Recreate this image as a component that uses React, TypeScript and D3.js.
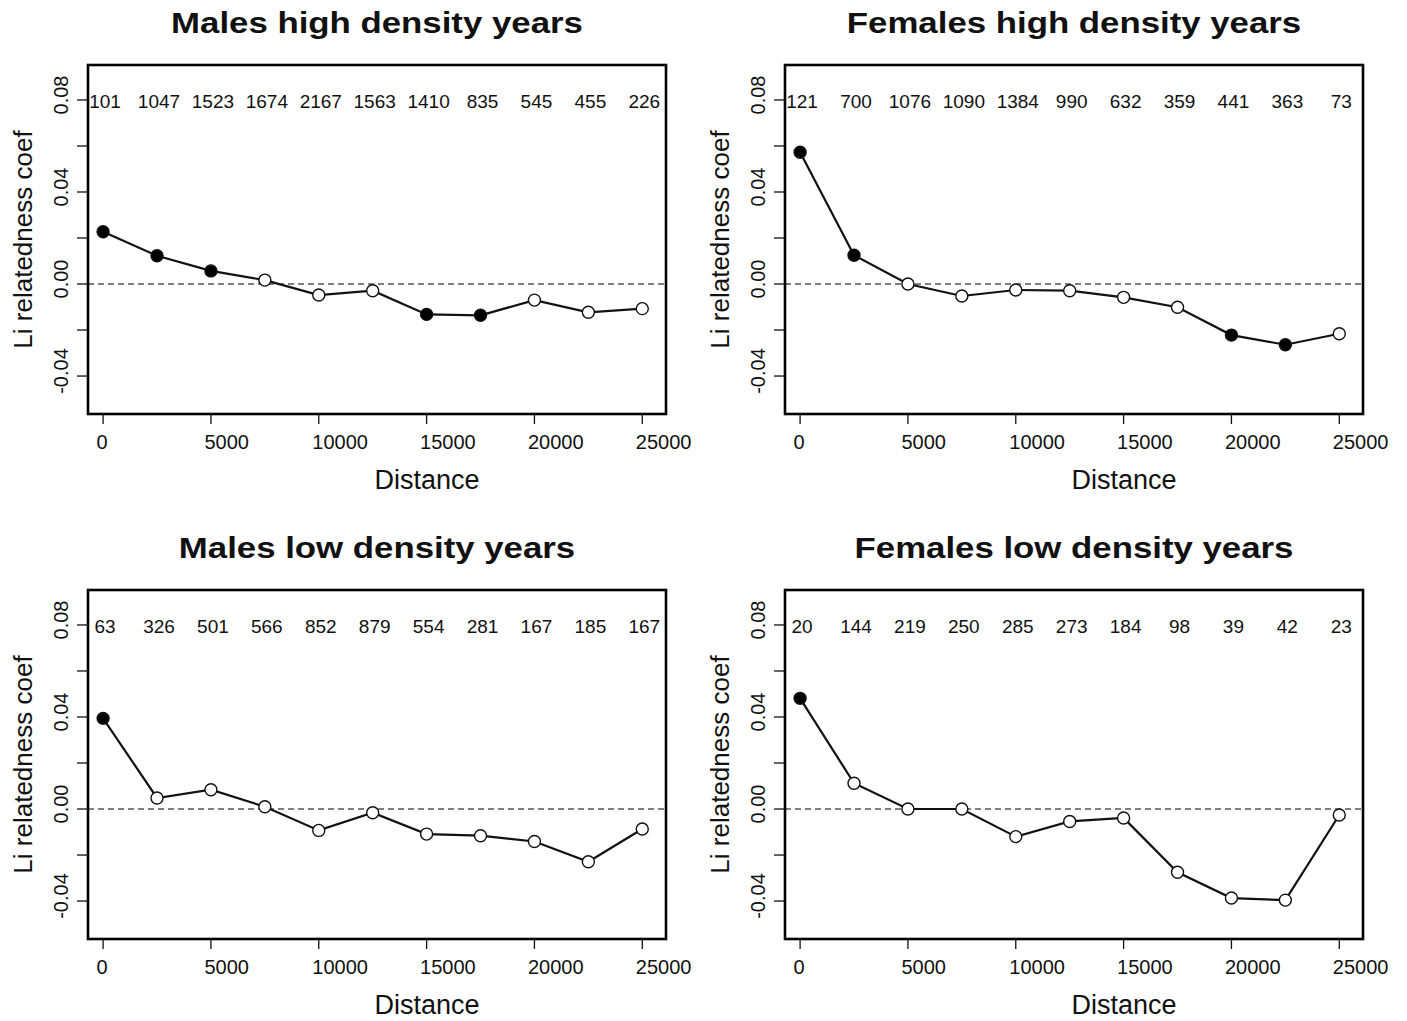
import React from 'react';
import * as d3 from 'd3';

const distances = [0, 2500, 5000, 7500, 10000, 12500, 15000, 17500, 20000, 22500, 25000];
const xTicks = [0, 5000, 10000, 15000, 20000, 25000];
const yTicks = [-0.04, -0.02, 0, 0.02, 0.04, 0.06, 0.08];
const yLabelTicks = [-0.04, 0, 0.04, 0.08];

const panelTitles = [
  'Males high density years',
  'Females high density years',
  'Males low density years',
  'Females low density years',
];

const malesHighValues = [0.0227, 0.0123, 0.0057, 0.0017, -0.0048, -0.0029, -0.0132, -0.0136, -0.0070, -0.0123, -0.0107];
const malesHighCounts = [101, 1047, 1523, 1674, 2167, 1563, 1410, 835, 545, 455, 226];
const malesHighSignif = [1, 1, 1, 0, 0, 0, 1, 1, 0, 0, 0];

const femalesHighValues = [0.0573, 0.0125, 0.0, -0.0052, -0.0026, -0.0029, -0.0058, -0.0101, -0.0222, -0.0264, -0.0216];
const femalesHighCounts = [121, 700, 1076, 1090, 1384, 990, 632, 359, 441, 363, 73];
const femalesHighSignif = [1, 1, 0, 0, 0, 0, 0, 0, 1, 1, 0];

const malesLowValues = [0.0394, 0.0048, 0.0084, 0.0010, -0.0093, -0.0016, -0.0109, -0.0116, -0.0141, -0.0229, -0.0087];
const malesLowCounts = [63, 326, 501, 566, 852, 879, 554, 281, 167, 185, 167];
const malesLowSignif = [1, 0, 0, 0, 0, 0, 0, 0, 0, 0, 0];

const femalesLowValues = [0.0481, 0.0112, 0.0, 0.0, -0.0120, -0.0054, -0.0039, -0.0275, -0.0387, -0.0396, -0.0026];
const femalesLowCounts = [20, 144, 219, 250, 285, 273, 184, 98, 39, 42, 23];
const femalesLowSignif = [1, 0, 0, 0, 0, 0, 0, 0, 0, 0, 0];

const panelValues = [malesHighValues, femalesHighValues, malesLowValues, femalesLowValues];
const panelCounts = [malesHighCounts, femalesHighCounts, malesLowCounts, femalesLowCounts];
const panelSignif = [malesHighSignif, femalesHighSignif, malesLowSignif, femalesLowSignif];

const FONT = '"Liberation Sans", Arial, Helvetica, sans-serif';

const BOX_L = 88;
const BOX_T = 65;
const BOX_W = 578;
const BOX_H = 349;

function Panel({ idx, dx, dy }: { idx: number; dx: number; dy: number }) {
  const x = d3.scaleLinear().domain([-700, 26100]).range([BOX_L, BOX_L + BOX_W]);
  const y = d3.scaleLinear().domain([-0.0565, 0.0952]).range([BOX_T + BOX_H, BOX_T]);
  const values = panelValues[idx];
  const counts = panelCounts[idx];
  const signif = panelSignif[idx];
  const pts = distances.map((d, i) => ({ d, v: values[i], c: counts[i], s: signif[i] }));
  const line = d3
    .line<{ d: number; v: number }>()
    .x((p) => x(p.d))
    .y((p) => y(p.v));
  const fmt = (t: number) => d3.format('.2f')(t).replace('\u2212', '-');
  const cx = BOX_L + BOX_W / 2;
  const cy = BOX_T + BOX_H / 2;
  return (
    <g transform={`translate(${dx},${dy})`} fontFamily={FONT}>
      <text
        transform={`translate(${cx},33) scale(1.2,1)`}
        textAnchor="middle"
        fontSize={29}
        fontWeight="bold"
        fill="#111"
      >
        {panelTitles[idx]}
      </text>
      {/* zero reference */}
      <line x1={BOX_L} x2={BOX_L + BOX_W} y1={y(0)} y2={y(0)} stroke="#555" strokeWidth={1.5} strokeDasharray="6,4" />
      {/* series */}
      <path d={line(pts) || ''} fill="none" stroke="#111" strokeWidth={2.2} />
      {pts.map((p, i) => (
        <circle
          key={i}
          cx={x(p.d)}
          cy={y(p.v)}
          r={6}
          fill={p.s ? '#000' : '#fff'}
          stroke="#111"
          strokeWidth={1.4}
        />
      ))}
      {/* counts */}
      {pts.map((p, i) => (
        <text key={'c' + i} x={x(p.d) + 2} y={108} textAnchor="middle" fontSize={19} fill="#111">
          {p.c}
        </text>
      ))}
      {/* box */}
      <rect x={BOX_L} y={BOX_T} width={BOX_W} height={BOX_H} fill="none" stroke="#000" strokeWidth={2.6} />
      {/* x axis */}
      {xTicks.map((t) => (
        <g key={'x' + t}>
          <line x1={x(t)} x2={x(t)} y1={BOX_T + BOX_H} y2={BOX_T + BOX_H + 10} stroke="#111" strokeWidth={1.3} />
          <text x={x(t) - 6.5} y={449} textAnchor="start" fontSize={20} fill="#111">
            {t}
          </text>
        </g>
      ))}
      <text x={cx + 50} y={489} textAnchor="middle" fontSize={27} fill="#111">
        Distance
      </text>
      {/* y axis */}
      {yTicks.map((t) => (
        <line key={'y' + t} x1={BOX_L - 11} x2={BOX_L} y1={y(t)} y2={y(t)} stroke="#111" strokeWidth={1.3} />
      ))}
      {yLabelTicks.map((t) => (
        <text
          key={'yl' + t}
          transform={`translate(68,${y(t) - 5}) rotate(-90)`}
          textAnchor="middle"
          fontSize={20}
          fill="#111"
        >
          {fmt(t)}
        </text>
      ))}
      <text transform={`translate(32,${cy}) rotate(-90)`} textAnchor="middle" fontSize={26} fill="#111">
        Li relatedness coef
      </text>
    </g>
  );
}

export default function App() {
  const offsets = [
    [0, 0],
    [697, 0],
    [0, 525],
    [697, 525],
  ];
  return (
    <svg
      width={1407}
      height={1021}
      style={{ position: 'absolute', left: 0, top: 0, background: '#fff' }}
    >
      <rect x={0} y={0} width={1407} height={1021} fill="#fff" />
      {offsets.map(([dx, dy], i) => (
        <Panel key={i} idx={i} dx={dx} dy={dy} />
      ))}
    </svg>
  );
}
